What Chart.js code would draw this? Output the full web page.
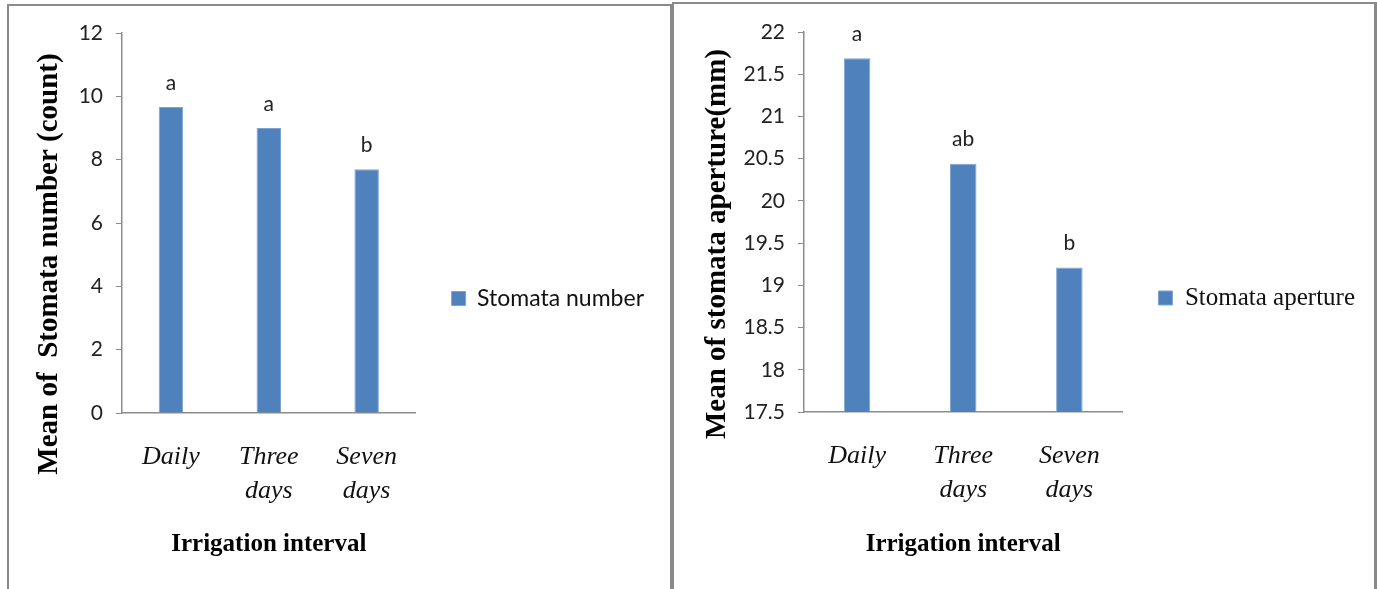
<!DOCTYPE html>
<html>
<head>
<meta charset="utf-8">
<script src="https://cdn.jsdelivr.net/npm/chart.js@4"></script>
<style>
body { margin: 0; background: #fff; width: 1377px; height: 589px; overflow: hidden; position: relative; }
.panel { position: absolute; border: 2px solid #8a8a8a; border-bottom: none; box-sizing: border-box; }
canvas { position: absolute; }
</style>
</head>
<body>
<div class="panel" style="left:7px; top:4px; width:665px; height:600px;"></div>
<div class="panel" style="left:672px; top:2px; width:705px; height:600px; border-right-width:3px;"></div>
<canvas id="chartjs-0" width="661" height="583" style="left:9px; top:6px;"></canvas>
<canvas id="chartjs-1" width="700" height="585" style="left:674px; top:4px;"></canvas>
<script>
// categories (two-line labels like the original)
var intervals = [["Daily"], ["Three", "days"], ["Seven", "days"]];

// left chart - stomata number
var stomataNumber = [9.66, 9.0, 7.7];
var numberLetters = ["a", "a", "b"];
var numberTicks = [0, 2, 4, 6, 8, 10, 12];

// right chart - stomata aperture
var stomataAperture = [21.69, 20.44, 19.21];
var apertureLetters = ["a", "ab", "b"];
var apertureTicks = [17.5, 18, 18.5, 19, 19.5, 20, 20.5, 21, 21.5, 22];

var barColor = "#4F81BD";
var axisColor = "#8c8c8c";

// letters above the bars (significance groups)
var letterPlugin = {
    id: "sigLetters",
    afterDatasetsDraw: function (chart, args, opts) {
        var ctx = chart.ctx;
        var bars = chart.getDatasetMeta(0).data;
        ctx.save();
        ctx.font = "21px Lato";
        ctx.fillStyle = "#222";
        ctx.textAlign = "center";
        ctx.textBaseline = "middle";
        for (var i = 0; i < bars.length; i++) {
            ctx.fillText(opts.letters[i], bars[i].x, bars[i].y - 24);
        }
        ctx.restore();
    }
};

// rotated y title, it is longer than the plot so the scale title would squeeze it
var yTitlePlugin = {
    id: "yTitle",
    afterDraw: function (chart, args, opts) {
        var ctx = chart.ctx;
        var area = chart.chartArea;
        ctx.save();
        ctx.translate(opts.x, (area.top + area.bottom) / 2 + opts.shift);
        ctx.rotate(-Math.PI / 2);
        ctx.font = "bold 29px 'Liberation Serif'";
        ctx.fillStyle = "#000";
        ctx.textAlign = "center";
        ctx.textBaseline = "middle";
        ctx.fillText(opts.text, 0, 0);
        ctx.restore();
    }
};

function MakeChart(id, c) {
    "use strict";
    var canvas = document.getElementById(id);
    var h = canvas.height;
    return new Chart(canvas, {
        type: "bar",
        data: {
            labels: intervals,
            datasets: [{
                label: c.seriesName,
                data: c.values,
                backgroundColor: barColor,
                borderColor: "#7fa3cf",
                borderWidth: 1,
                barPercentage: 0.25,
                categoryPercentage: 1
            }]
        },
        options: {
            responsive: false,
            animation: false,
            devicePixelRatio: 1,
            layout: { padding: { left: 0, top: c.top, right: c.padRight, bottom: c.padBottom } },
            scales: {
                x: {
                    grid: { display: false, drawTicks: false },
                    border: { color: axisColor, width: 1.5 },
                    ticks: {
                        color: "#111",
                        padding: 27,
                        maxRotation: 0,
                        autoSkip: false,
                        font: { family: "'Liberation Serif'", style: "italic", size: 26, lineHeight: 1.3 }
                    },
                    title: {
                        display: true,
                        text: "Irrigation interval",
                        color: "#000",
                        padding: { top: 4, bottom: 4 },
                        font: { family: "'Liberation Serif'", weight: "bold", size: 25 }
                    },
                    afterFit: function (scale) { scale.height = h - c.bottom - c.padBottom; }
                },
                y: {
                    min: c.ticks[0],
                    max: c.ticks[c.ticks.length - 1],
                    grid: { drawOnChartArea: false, color: axisColor, tickLength: 6 },
                    border: { color: axisColor, width: 1.5 },
                    ticks: {
                        stepSize: c.ticks[1] - c.ticks[0],
                        color: "#222",
                        padding: 13,
                        font: { family: "Lato", size: 21 },
                        callback: function (v) { return String(+v.toFixed(1)); }
                    },
                    afterFit: function (scale) { scale.width = c.left; }
                }
            },
            plugins: {
                legend: {
                    position: "right",
                    maxWidth: 400,
                    labels: {
                        boxWidth: 14,
                        boxHeight: 14,
                        padding: 36,
                        color: "#111",
                        font: c.legendFont
                    }
                },
                tooltip: { enabled: false },
                sigLetters: { letters: c.letters },
                yTitle: { text: c.yTitle, x: c.yTitleX, shift: c.yTitleShift }
            }
        },
        plugins: [letterPlugin, yTitlePlugin]
    });
}

MakeChart("chartjs-0", {
    seriesName: "Stomata number",
    values: stomataNumber,
    letters: numberLetters,
    ticks: numberTicks,
    left: 113, top: 27, bottom: 407, padBottom: 25, padRight: 16,
    legendFont: { family: "Lato", size: 23 },
    yTitle: "Mean of  Stomata number (count)", yTitleX: 41, yTitleShift: 41
});

MakeChart("chartjs-1", {
    seriesName: "Stomata aperture",
    values: stomataAperture,
    letters: apertureLetters,
    ticks: apertureTicks,
    left: 130, top: 28, bottom: 408, padBottom: 25, padRight: 9,
    legendFont: { family: "'Liberation Serif'", size: 25 },
    yTitle: "Mean of stomata aperture(mm)", yTitleX: 44, yTitleShift: 22
});
</script>
</body>
</html>
